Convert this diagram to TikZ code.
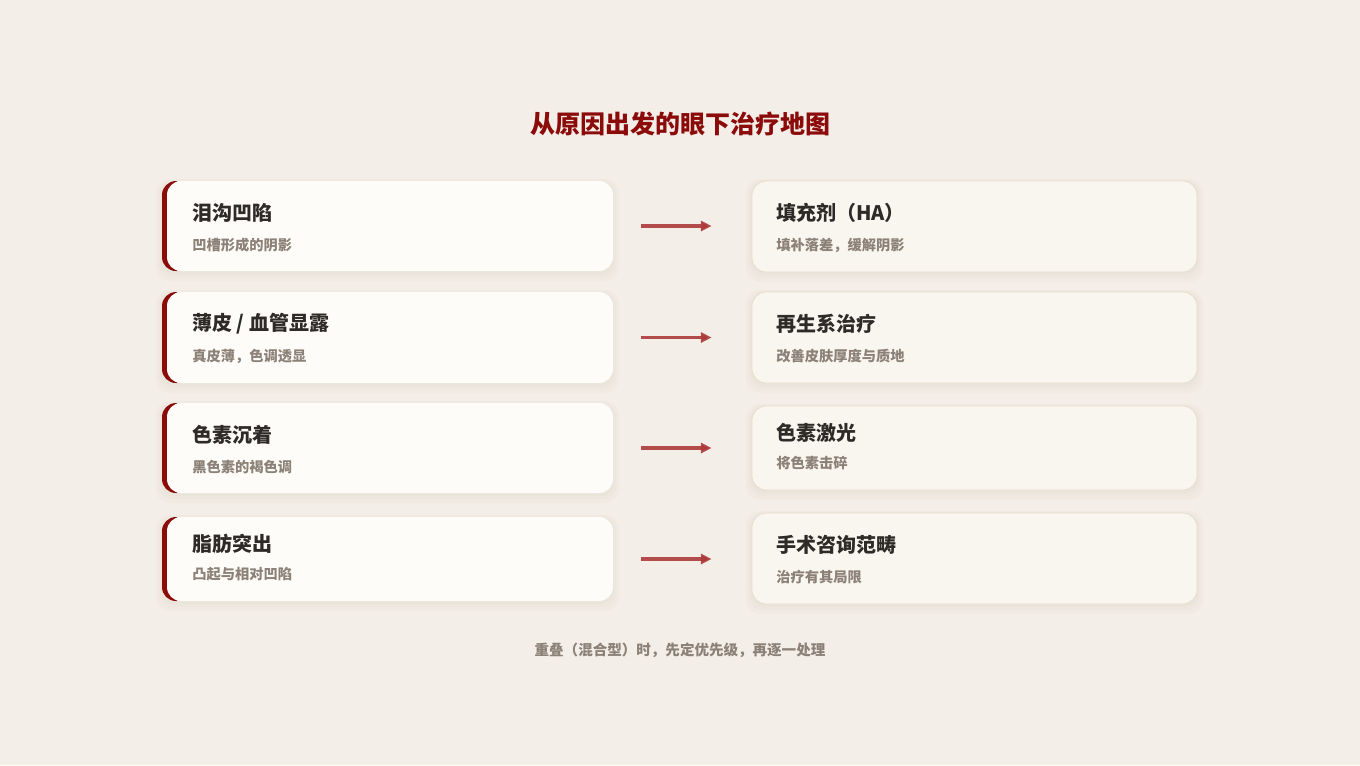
\documentclass[tikz,border=0pt]{standalone}
\usepackage{fontspec}
\setmainfont{Noto Sans CJK SC}
\usetikzlibrary{arrows.meta}
\definecolor{bg}{HTML}{F3EEE7}
\definecolor{deepred}{HTML}{8B0A0A}
\definecolor{cardL}{HTML}{FEFCF8}
\definecolor{cardR}{HTML}{F9F5EF}
\definecolor{cardRline}{HTML}{E6DDCD}
\definecolor{ttl}{HTML}{2E2A27}
\definecolor{sub}{HTML}{8C8177}
\definecolor{arr}{HTML}{AC3A3A}
\definecolor{shade}{HTML}{D9CFC0}
\tikzset{
  x=0.75pt, y=-0.75pt,
  cardbase/.style={rounded corners=10.5pt, inner sep=0pt, anchor=center},
  leftred/.style={cardbase, fill=deepred, minimum width=338.25pt},
  leftcard/.style={cardbase, fill=cardL, minimum width=334.5pt},
  rightcard/.style={cardbase, fill=cardR, draw=cardRline, line width=0.6pt, minimum width=333.75pt},
  cardtitle/.style={anchor=west, inner sep=0pt, text=ttl, font=\fontsize{15}{18}\selectfont\bfseries},
  cardsub/.style={anchor=west, inner sep=0pt, text=sub, font=\fontsize{10.7}{13}\selectfont\bfseries},
  flowarrow/.style={draw=arr, draw opacity=0.9, line width=2.3pt, -{Triangle[length=8pt,width=7.5pt]}, shorten <=21pt, shorten >=30pt},
  shadowbox/.style={cardbase, fill=shade, fill opacity=0.1}
}
\newcommand{\cardshadow}[4]{%
  \node[shadowbox, minimum width=#3+9pt, minimum height=#4+9pt] at (#1,#2+4) {};
  \node[shadowbox, minimum width=#3+5pt, minimum height=#4+5pt] at (#1,#2+3) {};
  \node[shadowbox, minimum width=#3+2pt, minimum height=#4+2pt] at (#1,#2+2) {};
}
\begin{document}
\begin{tikzpicture}
\fill[bg] (0,0) rectangle (1360,765);
\useasboundingbox (0,0) rectangle (1360,765);

\node[text=deepred, font=\fontsize{18.75}{22}\selectfont\bfseries] (title) at (680,124) {从原因出发的眼下治疗地图};

% shadows
\cardshadow{387.5}{226}{338.25pt}{67.5pt}
\cardshadow{387.5}{337.5}{338.25pt}{68.25pt}
\cardshadow{387.5}{448}{338.25pt}{67.5pt}
\cardshadow{387.5}{559}{338.25pt}{63pt}
\cardshadow{974.5}{226.5}{333.75pt}{68.25pt}
\cardshadow{974.5}{337.5}{333.75pt}{68.25pt}
\cardshadow{974.5}{448}{333.75pt}{63pt}
\cardshadow{974.5}{558.5}{333.75pt}{68.25pt}

% left accent bars (clipped to the left edge)
\begin{scope}
\clip (150,150) rectangle (177,620);
\node[leftred, minimum height=67.5pt] (l1red) at (387.5,226) {};
\node[leftred, minimum height=68.25pt] (l2red) at (387.5,337.5) {};
\node[leftred, minimum height=67.5pt] (l3red) at (387.5,448) {};
\node[leftred, minimum height=63pt] (l4red) at (387.5,559) {};
\end{scope}

% left cards
\node[leftcard, minimum height=67.5pt] (l1) at (390,226) {};
\node[leftcard, minimum height=68.25pt] (l2) at (390,337.5) {};
\node[leftcard, minimum height=67.5pt] (l3) at (390,448) {};
\node[leftcard, minimum height=63pt] (l4) at (390,559) {};

% right cards
\node[rightcard, minimum height=68.25pt] (r1) at (974.5,226.5) {};
\node[rightcard, minimum height=68.25pt] (r2) at (974.5,337.5) {};
\node[rightcard, minimum height=63pt] (r3) at (974.5,448) {};
\node[rightcard, minimum height=68.25pt] (r4) at (974.5,558.5) {};

% left texts
\node[cardtitle] (l1t) at (192,213) {泪沟凹陷};
\node[cardsub] (l1s) at (192,245) {凹槽形成的阴影};
\node[cardtitle] (l2t) at (192,324) {薄皮 / 血管显露};
\node[cardsub] (l2s) at (192,356) {真皮薄，色调透显};
\node[cardtitle] (l3t) at (192,435) {色素沉着};
\node[cardsub] (l3s) at (192,467) {黑色素的褐色调};
\node[cardtitle] (l4t) at (192,544) {脂肪突出};
\node[cardsub] (l4s) at (192,574) {凸起与相对凹陷};

% right texts
\node[cardtitle] (r1t) at (776,213) {填充剂（HA）};
\node[cardsub] (r1s) at (776,245) {填补落差，缓解阴影};
\node[cardtitle] (r2t) at (776,324) {再生系治疗};
\node[cardsub] (r2s) at (776,356) {改善皮肤厚度与质地};
\node[cardtitle] (r3t) at (776,433) {色素激光};
\node[cardsub] (r3s) at (776,463) {将色素击碎};
\node[cardtitle] (r4t) at (776,545) {手术咨询范畴};
\node[cardsub] (r4s) at (776,577) {治疗有其局限};

% arrows
\draw[flowarrow] (l1.east) -- (r1.west |- l1.east);
\draw[flowarrow] (l2.east) -- (r2.west |- l2.east);
\draw[flowarrow] (l3.east) -- (r3.west |- l3.east);
\draw[flowarrow] (l4.east) -- (r4.west |- l4.east);

\node[text=sub, font=\fontsize{10.9}{13}\selectfont\bfseries] (foot) at (680,650) {重叠（混合型）时，先定优先级，再逐一处理};
\end{tikzpicture}
\end{document}
